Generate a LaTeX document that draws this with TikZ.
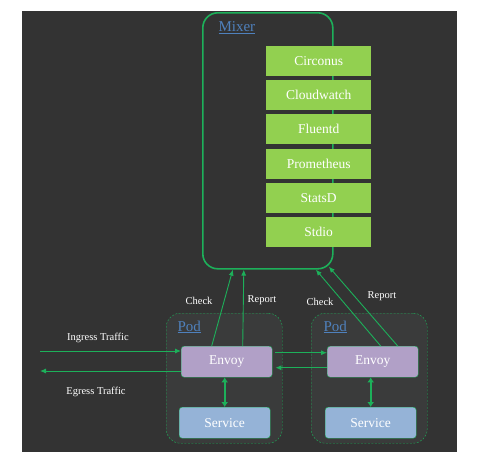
\documentclass[tikz,border=0pt]{standalone}
\usepackage{fontspec}
\setmainfont{Liberation Serif}
\usetikzlibrary{arrows.meta}
\definecolor{bgdark}{HTML}{333333}
\definecolor{poddark}{HTML}{3A3B3B}
\definecolor{linegreen}{HTML}{1DB05A}
\definecolor{backendgreen}{HTML}{92D050}
\definecolor{envoypurple}{HTML}{B1A0C7}
\definecolor{serviceblue}{HTML}{95B3D7}
\definecolor{labelblue}{HTML}{4F81BD}
\begin{document}
\begin{tikzpicture}[x=1pt,y=-1pt,
    backend/.style={fill=backendgreen, text=white, minimum width=105, minimum height=30,
      anchor=north west, inner sep=0pt, font=\fontsize{13.5}{13.5}\selectfont},
    podbox/.style={draw=linegreen, dashed, dash pattern=on 2pt off 1.5pt, fill=poddark,
      rounded corners=14pt, minimum width=116, minimum height=130, anchor=north west},
    envoybox/.style={draw=linegreen, fill=envoypurple, text=white, rounded corners=3pt,
      minimum width=91, minimum height=31, anchor=north west, font=\fontsize{13.5}{13.5}\selectfont},
    servicebox/.style={draw=linegreen, fill=serviceblue, text=white, rounded corners=3pt,
      minimum width=91, minimum height=31, anchor=north west, font=\fontsize{13.5}{13.5}\selectfont},
    tag/.style={text=labelblue, anchor=west, font=\fontsize{15}{15}\selectfont},
    note/.style={text=white, font=\fontsize{10.5}{10.5}\selectfont},
    flow/.style={draw=linegreen, line width=0.9pt, -{Latex[length=6pt,width=5pt]}},
    pipe/.style={draw=linegreen, line width=2.2pt, {Latex[length=5pt,width=7pt]}-{Latex[length=5pt,width=7pt]}}]
  \useasboundingbox (0,0) rectangle (478,459);
  \fill [bgdark] (22,11) rectangle (457,452);

  % mixer and its adapters
  \node [draw=linegreen, line width=1.6pt, rounded corners=15pt, minimum width=130,
    minimum height=256, anchor=north west] (mixer) at (202,12) {};
  \node [tag] (mixerlabel) at (215,28) {\underline{Mixer}};
  \foreach \name/\y [count=\i] in {Circonus/46, Cloudwatch/80, Fluentd/114,
      Prometheus/149, StatsD/183, Stdio/217}
    \node [backend] (adapter\i) at (266,\y) {\name};

  % pods
  \node [podbox] (pod1) at (166,313) {};
  \node [podbox] (pod2) at (311,313) {};
  \node [tag] (podlabel1) at (174,327) {\underline{Pod}};
  \node [tag] (podlabel2) at (320,327) {\underline{Pod}};
  \node [envoybox] (envoy1) at (181,346) {Envoy};
  \node [envoybox] (envoy2) at (327,346) {Envoy};
  \node [servicebox] (service1) at (179,407) {Service};
  \node [servicebox] (service2) at (325,407) {Service};
  \draw [pipe] (envoy1.south -| service1.north) -- (service1.north);
  \draw [pipe] (envoy2.south -| service2.north) -- (service2.north);

  % traffic
  \coordinate (ingress) at (40,351);
  \coordinate (egress) at (40,371);
  \draw [flow] (ingress) -- (ingress -| envoy1.west);
  \draw [flow] (egress -| envoy1.west) -- (egress);
  \node [note] (ingresslabel) at (98,338) {Ingress Traffic};
  \node [note] (egresslabel) at (96,392) {Egress Traffic};
  \draw [flow] ([xshift=3pt,yshift=9pt]envoy1.east) -- ([yshift=9pt]envoy2.west);
  \draw [flow] ([yshift=-6pt]envoy2.west) -- ([xshift=3pt,yshift=-6pt]envoy1.east);

  % check and report
  \draw [flow] ([xshift=-15pt]envoy1.north) -- ([xshift=-35pt]mixer.south);
  \draw [flow] ([xshift=16pt]envoy1.north) -- ([xshift=-24pt]mixer.south);
  \draw [flow] ([xshift=8pt]envoy2.north) -- ([xshift=48pt]mixer.south);
  \draw [flow] ([xshift=25pt]envoy2.north) -- ([xshift=61pt,yshift=3pt]mixer.south);
  \node [note] (check1) at (199,301) {Check};
  \node [note] (report1) at (262,300) {Report};
  \node [note] (check2) at (320,302) {Check};
  \node [note] (report2) at (382,296) {Report};
\end{tikzpicture}
\end{document}
